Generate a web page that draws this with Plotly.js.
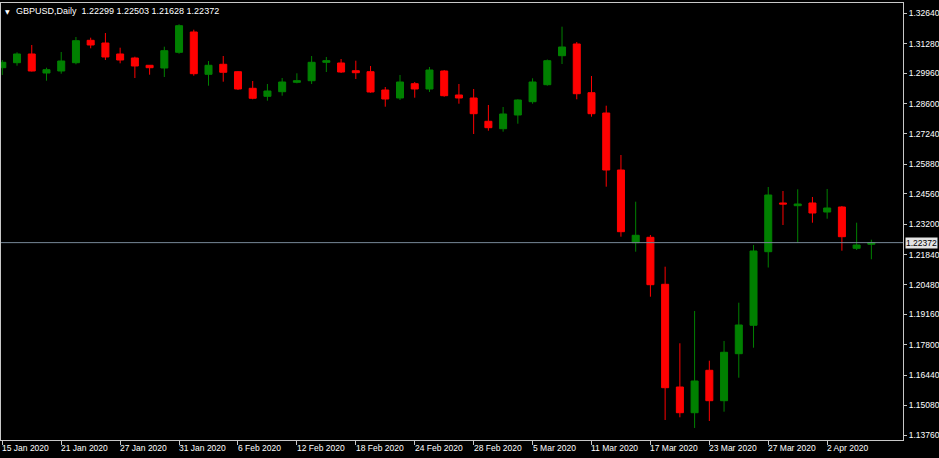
<!DOCTYPE html>
<html>
<head>
<meta charset="utf-8">
<script src="https://cdn.plot.ly/plotly-3.0.1.min.js"></script>
<style>
html,body{margin:0;padding:0;background:#000;}
#chart{width:939px;height:458px;}
</style>
</head>
<body>
<div id="chart"></div>
<script>
// ---- data (GBPUSD, Daily) ----
const dates = [
  "2020-01-15","2020-01-16","2020-01-17","2020-01-20","2020-01-21","2020-01-22","2020-01-23","2020-01-24",
  "2020-01-27","2020-01-28","2020-01-29","2020-01-30","2020-01-31","2020-02-03","2020-02-04","2020-02-05",
  "2020-02-06","2020-02-07","2020-02-10","2020-02-11","2020-02-12","2020-02-13","2020-02-14","2020-02-17",
  "2020-02-18","2020-02-19","2020-02-20","2020-02-21","2020-02-24","2020-02-25","2020-02-26","2020-02-27",
  "2020-02-28","2020-03-02","2020-03-03","2020-03-04","2020-03-05","2020-03-06","2020-03-09","2020-03-10",
  "2020-03-11","2020-03-12","2020-03-13","2020-03-16","2020-03-17","2020-03-18","2020-03-19","2020-03-20",
  "2020-03-23","2020-03-24","2020-03-25","2020-03-26","2020-03-27","2020-03-30","2020-03-31","2020-04-01",
  "2020-04-02","2020-04-03","2020-04-06","2020-04-07"
];
const openP = [
  1.30204,1.30428,1.30818,1.29967,1.30057,1.30428,1.31431,1.31310,
  1.30818,1.30639,1.30312,1.30191,1.30894,1.31803,1.29909,1.30357,
  1.30025,1.29282,1.28924,1.29130,1.29551,1.29622,1.30446,1.30415,
  1.30070,1.30025,1.29206,1.28848,1.29488,1.29251,1.30057,1.28982,
  1.28848,1.27805,1.27473,1.28087,1.28682,1.29443,1.30742,1.31266,
  1.29085,1.28176,1.25624,1.22370,1.22611,1.20507,1.15909,1.14758,
  1.16657,1.15296,1.17400,1.18672,1.21967,1.24147,1.24026,1.24147,
  1.23744,1.23968,1.22119,1.22299
];
const highP = [
  1.30549,1.30894,1.31221,1.30204,1.30907,1.31579,1.31548,1.31758,
  1.31100,1.30697,1.30325,1.31145,1.32148,1.31906,1.30504,1.30728,
  1.30057,1.29609,1.29475,1.29743,1.29954,1.30728,1.30684,1.30594,
  1.30518,1.30281,1.29340,1.29878,1.29564,1.30236,1.30102,1.29475,
  1.29251,1.28535,1.28445,1.28790,1.29730,1.30572,1.32040,1.31355,
  1.29833,1.28503,1.26296,1.24205,1.22714,1.21295,1.17866,1.19312,
  1.17087,1.17969,1.19683,1.22267,1.24863,1.24684,1.24760,1.24416,
  1.24774,1.24013,1.23265,1.22503
];
const lowP = [
  1.29878,1.30294,1.30034,1.29622,1.29936,1.30357,1.31073,1.30549,
  1.30401,1.29743,1.29891,1.29788,1.30831,1.29846,1.29399,1.29578,
  1.29206,1.28790,1.28727,1.28951,1.29506,1.29475,1.30012,1.29967,
  1.29699,1.29085,1.28458,1.28758,1.28861,1.29117,1.28906,1.28593,
  1.27236,1.27384,1.27339,1.27697,1.28593,1.29399,1.30370,1.28790,
  1.28011,1.24877,1.22638,1.21967,1.19952,1.14432,1.14553,1.14074,
  1.14387,1.14803,1.16325,1.17669,1.21259,1.23162,1.22370,1.23265,
  1.23444,1.22011,1.22043,1.21628
];
const closeP = [
  1.30446,1.30818,1.30057,1.30115,1.30504,1.31413,1.31221,1.30684,
  1.30549,1.30281,1.30204,1.30966,1.32085,1.29936,1.30312,1.29999,
  1.29251,1.28835,1.29161,1.29564,1.29622,1.30446,1.30518,1.30012,
  1.29981,1.29117,1.28803,1.29564,1.29251,1.30102,1.28951,1.28848,
  1.28145,1.27518,1.28132,1.28758,1.29564,1.30518,1.31131,1.29040,
  1.28145,1.25624,1.22862,1.22701,1.20489,1.15878,1.14758,1.16178,
  1.15296,1.17463,1.18685,1.21998,1.24505,1.24102,1.24102,1.23699,
  1.23923,1.22638,1.22267,1.22372
];
const xTickDates  = ["2020-01-15","2020-01-21","2020-01-27","2020-01-31","2020-02-06","2020-02-12","2020-02-18",
                     "2020-02-24","2020-02-28","2020-03-05","2020-03-11","2020-03-17","2020-03-23","2020-03-27","2020-04-02"];
const xTickLabels = ["15 Jan 2020","21 Jan 2020","27 Jan 2020","31 Jan 2020","6 Feb 2020","12 Feb 2020","18 Feb 2020",
                     "24 Feb 2020","28 Feb 2020","5 Mar 2020","11 Mar 2020","17 Mar 2020","23 Mar 2020","27 Mar 2020","2 Apr 2020"];
const yTickVals   = [1.32640,1.31280,1.29960,1.28600,1.27240,1.25880,1.24560,1.23200,1.21840,1.20480,1.19160,1.17800,1.16440,1.15080,1.13760];
const yTickLabels = ["1.32640","1.31280","1.29960","1.28600","1.27240","1.25880","1.24560","1.23200","1.21840","1.20480","1.19160","1.17800","1.16440","1.15080","1.13760"];
const symbolTitle = "GBPUSD,Daily";
const lastBar = {open: 1.22299, high: 1.22503, low: 1.21628, close: 1.22372};

// ---- chart ----
const FONT = "Liberation Sans, Arial, sans-serif";
const FS = 8.5;
const idx = dates.map((d, i) => i);
const tickIdx = xTickDates.map(d => dates.indexOf(d));
const fmt = v => v.toFixed(5);

const trace = {
  type: "candlestick",
  x: idx, open: openP, high: highP, low: lowP, close: closeP,
  increasing: {line: {color: "#008000", width: 1}, fillcolor: "#008000"},
  decreasing: {line: {color: "#ff0000", width: 1}, fillcolor: "#ff0000"},
  whiskerwidth: 0,
  hoverinfo: "skip"
};

const annotations = xTickLabels.map((t, k) => ({
  x: tickIdx[k], xref: "x", y: 0, yref: "paper",
  xanchor: "left", yanchor: "top", xshift: -1, yshift: -2,
  text: t, showarrow: false, borderpad: 0,
  font: {family: FONT, size: FS, color: "#ffffff"}
}));
annotations.push({
  x: 1, xref: "paper", y: lastBar.close, yref: "y",
  xanchor: "left", yanchor: "middle", xshift: 2,
  text: fmt(lastBar.close), showarrow: false, borderpad: 0,
  bgcolor: "#e4e4e4",
  font: {family: FONT, size: FS, color: "#000000"}
});
annotations.push({
  x: 0, xref: "paper", y: 1, yref: "paper",
  xanchor: "left", yanchor: "middle", xshift: 3, yshift: -8,
  text: "▼", showarrow: false, borderpad: 0,
  font: {family: "DejaVu Sans", size: 6, color: "#ffffff"}
});
annotations.push({
  x: 0, xref: "paper", y: 1, yref: "paper",
  xanchor: "left", yanchor: "middle", xshift: 14, yshift: -8,
  text: symbolTitle + "  " + [lastBar.open, lastBar.high, lastBar.low, lastBar.close].map(fmt).join(" "),
  showarrow: false, borderpad: 0,
  font: {family: FONT, size: 9, color: "#ffffff"}
});

const layout = {
  width: 939, height: 458,
  margin: {l: 1, r: 36, t: 3, b: 18, pad: 0},
  paper_bgcolor: "#000000", plot_bgcolor: "#000000",
  showlegend: false,
  boxgap: 0.32,
  xaxis: {
    type: "linear", range: [-0.088, 61.148],
    rangeslider: {visible: false},
    tickvals: tickIdx, showticklabels: false,
    ticks: "outside", ticklen: 4, tickcolor: "#c8c8c8", tickwidth: 1,
    showgrid: false, zeroline: false,
    showline: true, linecolor: "#c8c8c8", linewidth: 1, mirror: true,
    fixedrange: true
  },
  yaxis: {
    side: "right", range: [1.13536, 1.33101],
    tickvals: yTickVals, ticktext: yTickLabels,
    ticks: "outside", ticklen: 3, tickcolor: "#c8c8c8", tickwidth: 1,
    tickfont: {family: FONT, size: FS, color: "#ffffff"},
    showgrid: false, zeroline: false,
    showline: true, linecolor: "#c8c8c8", linewidth: 1, mirror: true,
    fixedrange: true
  },
  shapes: [{
    type: "line", xref: "paper", x0: 0, x1: 1, yref: "y", y0: lastBar.close, y1: lastBar.close,
    line: {color: "#778899", width: 1}
  }],
  annotations: annotations
};

Plotly.newPlot("chart", [trace], layout, {displayModeBar: false, staticPlot: true});
</script>
</body>
</html>
